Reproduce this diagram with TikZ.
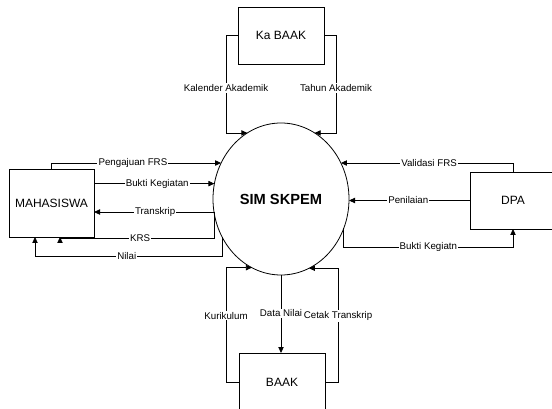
\documentclass[tikz,border=0pt]{standalone}
\usepackage{fontspec}
\setmainfont{Liberation Sans}
\usetikzlibrary{shapes.geometric, arrows.meta, calc}

\tikzset{
	entity/.style = {draw, rectangle, minimum width = 64.5pt, minimum height = 42.75pt, outer sep = 0pt, font = \fontsize{9}{11}\selectfont},
	flow/.style = {draw, -{Triangle[length = 4.5pt, width = 4pt]}},
	lbl/.style = {fill = white, inner sep = 0.8pt, font = \fontsize{7.3}{8}\selectfont}
}

\begin{document}
\begin{tikzpicture}[x = 0.75pt, y = -0.75pt, line width = 0.6pt]
	\useasboundingbox (0, 0) rectangle (552, 409);
	% process and external entities
	\node[ellipse, draw, minimum width = 102pt, minimum height = 114pt, inner sep = 0pt, outer sep = 0pt, font = \bfseries\fontsize{11}{13}\selectfont] (sim) at (281, 199) {SIM SKPEM};
	\node[entity] (kabaak) at (281, 35.5) {Ka BAAK};
	\node[entity, minimum width = 63.75pt, minimum height = 51pt] (maha) at (51.5, 203) {MAHASISWA};
	\node[entity] (dpa) at (513, 200.5) {DPA};
	\node[entity, minimum height = 43.5pt] (baak) at (282, 382) {BAAK};
	% Ka BAAK
	\draw[flow] (kabaak.west) -- ++(-12, 0) |- node[lbl, pos = 0.27] {Kalender Akademik} (sim.117);
	\draw[flow] (kabaak.east) -- ++(12, 0) |- node[lbl, pos = 0.27] {Tahun Akademik} (sim.63);
	% MAHASISWA
	\draw[flow] (maha.north) |- node[lbl, pos = 0.74] {Pengajuan FRS} (sim.149);
	\draw[flow] (maha.east |- sim.167.3) -- node[lbl, pos = 0.525] {Bukti Kegiatan} (sim.167.3);
	\draw[flow] (sim.191.8) -- node[lbl, pos = 0.49] {Transkrip} (maha.east |- sim.191.8);
	\draw[flow] (sim.191.8) -- ++(0, 26) -| node[lbl, pos = 0.24] {KRS} ($(maha.south) + (8.5, 0)$);
	\draw[flow] (sim.213.7) -- ++(0, 19) -| node[lbl, pos = 0.255] {Nilai} ($(maha.south) + (-16.5, 0)$);
	% DPA
	\draw[flow] (dpa.north) |- node[lbl, pos = 0.744] {Validasi FRS} (sim.31);
	\draw[flow] (dpa.west) -- node[lbl, pos = 0.51] {Penilaian} (dpa.west -| sim.east);
	\draw[flow] (sim.335.3) -- ++(0, 19) -| node[lbl, pos = 0.25] {Bukti Kegiatn} (dpa.south);
	% BAAK
	\draw[flow] (baak.west) -- ++(-13, 0) |- node[lbl, pos = 0.29] {Kurikulum} (sim.247.6);
	\draw[flow] (sim.south) -- node[lbl, pos = 0.49] {Data Nilai} (sim.south |- baak.north);
	\draw[flow] (baak.east) -- ++(13, 0) |- node[lbl, pos = 0.29] {Cetak Transkrip} (sim.292.4);
\end{tikzpicture}
\end{document}
